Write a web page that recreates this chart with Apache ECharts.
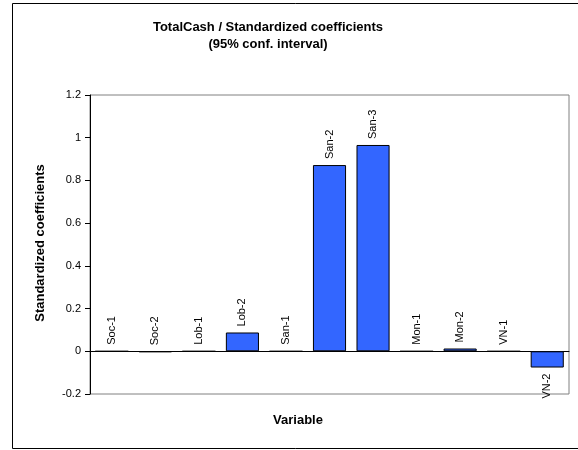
<!DOCTYPE html>
<html>
<head>
<meta charset="utf-8">
<script src="https://cdn.jsdelivr.net/npm/echarts@6/dist/echarts.min.js"></script>
<style>
html,body{margin:0;padding:0;background:#fff;}
#chart{width:578px;height:450px;}
</style>
</head>
<body>
<div id="chart"></div>
<script>
var categories = ['Soc-1','Soc-2','Lob-1','Lob-2','San-1','San-2','San-3','Mon-1','Mon-2','VN-1','VN-2'];
var values = [0, -0.004, 0, 0.088, 0, 0.872, 0.966, 0, 0.013, 0, -0.076];
var yTicks = [-0.2, 0, 0.2, 0.4, 0.6, 0.8, 1, 1.2];

var FONT = '"Liberation Sans", Arial, sans-serif';
var chart = echarts.init(document.getElementById('chart'), null, {renderer: 'canvas'});

var data = values.map(function (v, i) {
  var neg = v < -0.01;
  return {
    value: v,
    label: {
      position: neg ? 'bottom' : 'top',
      align: neg ? 'right' : 'left'
    }
  };
});

chart.setOption({
  animation: false,
  backgroundColor: '#ffffff',
  grid: {
    left: 90, right: 9, top: 95, bottom: 56,
    show: true, borderColor: '#808080', borderWidth: 1, backgroundColor: 'transparent'
  },
  xAxis: {
    type: 'category',
    data: categories,
    axisLine: {onZero: true, lineStyle: {color: '#000', width: 1}},
    axisTick: {show: false},
    axisLabel: {show: false},
    splitLine: {show: false}
  },
  yAxis: {
    type: 'value',
    min: yTicks[0],
    max: yTicks[yTicks.length - 1],
    interval: 0.2,
    axisLine: {show: true, lineStyle: {color: '#000', width: 1}},
    axisTick: {show: true, inside: false, length: 5, lineStyle: {color: '#000'}},
    splitLine: {show: false},
    axisLabel: {
      color: '#000', fontFamily: FONT, fontSize: 11, margin: 9,
      formatter: function (v) { return String(Math.round(v * 10) / 10); }
    }
  },
  series: [{
    type: 'bar',
    data: data,
    barCategoryGap: '24%',
    itemStyle: {color: '#3366FF', borderColor: '#000', borderWidth: 1},
    label: {
      show: true,
      rotate: 90,
      distance: 6,
      verticalAlign: 'middle',
      color: '#000',
      fontFamily: FONT,
      fontSize: 11,
      formatter: function (p) { return p.name; }
    }
  }],
  graphic: [
    {type: 'rect', silent: true, z: -1,
     shape: {x: 12.5, y: 3.5, width: 600, height: 445},
     style: {fill: 'none', stroke: '#000', lineWidth: 1}},
    {type: 'text', silent: true, x: 268, y: 27,
     style: {text: 'TotalCash / Standardized coefficients', fontFamily: FONT, fontSize: 13, fontWeight: 'bold',
             fill: '#000', align: 'center', verticalAlign: 'middle'}},
    {type: 'text', silent: true, x: 268, y: 44,
     style: {text: '(95% conf. interval)', fontFamily: FONT, fontSize: 13, fontWeight: 'bold',
             fill: '#000', align: 'center', verticalAlign: 'middle'}},
    {type: 'text', silent: true, x: 40, y: 243, rotation: Math.PI / 2,
     style: {text: 'Standardized coefficients', fontFamily: FONT, fontSize: 13, fontWeight: 'bold',
             fill: '#000', align: 'center', verticalAlign: 'middle'}},
    {type: 'text', silent: true, x: 298, y: 420,
     style: {text: 'Variable', fontFamily: FONT, fontSize: 13, fontWeight: 'bold',
             fill: '#000', align: 'center', verticalAlign: 'middle'}}
  ]
});
</script>
</body>
</html>
